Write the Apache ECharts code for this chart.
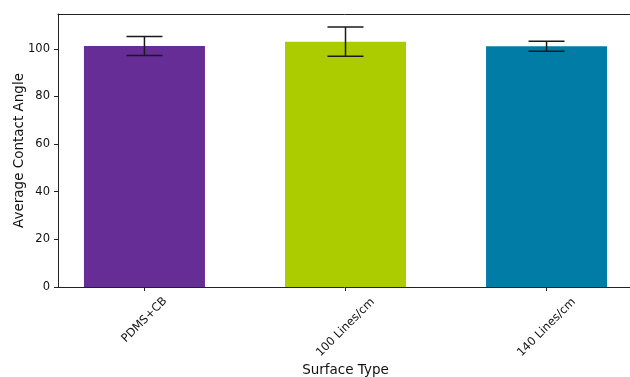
<!DOCTYPE html>
<html>
<head>
<meta charset="utf-8">
<script src="https://cdn.jsdelivr.net/npm/echarts@6/dist/echarts.min.js"></script>
<style>
  html, body { margin: 0; padding: 0; background: #fff; }
  #chart { width: 630px; height: 377px; }
</style>
</head>
<body>
<div id="chart"></div>
<script>
const categories = ['PDMS+CB', '100 Lines/cm', '140 Lines/cm'];
const meanAngles = [101.2, 103.0, 101.1];
const errors = [4.0, 6.1, 2.1];
const barColors = ['#652d95', '#adcc00', '#007ca7'];
const yTicks = [0, 20, 40, 60, 80, 100];

const positions = categories.map((c, i) => i);
const FONT = 'DejaVu Sans';
const TXT = '#111';

const chart = echarts.init(document.getElementById('chart'), null, { renderer: 'canvas' });

const option = {
  animation: false,
  backgroundColor: '#fff',
  grid: { left: 58, right: -3, top: 14, bottom: 90, containLabel: false, outerBoundsMode: 'none' },
  xAxis: [
    {
      type: 'value',
      min: -0.43,
      max: 2.43,
      position: 'bottom',
      name: 'Surface Type',
      nameLocation: 'middle',
      nameGap: 76,
      nameMoveOverlap: false,
      nameTextStyle: { fontFamily: FONT, fontSize: 13.5, color: TXT },
      splitLine: { show: false },
      axisLine: { show: true, onZero: false, lineStyle: { color: '#222', width: 1 } },
      axisTick: { show: true, length: 4, customValues: positions, lineStyle: { color: '#222', width: 1 } },
      axisLabel: {
        customValues: positions,
        rotate: 45,
        align: 'center',
        verticalAlign: 'middle',
        margin: 33,
        fontFamily: FONT,
        fontSize: 11.5,
        color: TXT,
        formatter: function (v) {
          const i = Math.round(v);
          const name = categories[i];
          return name.length > 8 ? '{b|' + name + '}' : '{a|' + name + '}';
        },
        rich: {
          a: { fontFamily: FONT, fontSize: 11.5, color: TXT },
          b: { fontFamily: FONT, fontSize: 11.5, color: TXT, padding: [10.6, 10.6, 0, 0] }
        }
      }
    },
    {
      type: 'value',
      min: -0.43,
      max: 2.43,
      position: 'top',
      axisLine: { show: true, onZero: false, lineStyle: { color: '#222', width: 1 } },
      axisTick: { show: false },
      axisLabel: { show: false },
      splitLine: { show: false }
    }
  ],
  yAxis: {
    type: 'value',
    min: 0,
    max: 114.6,
    name: 'Average Contact Angle',
    nameLocation: 'middle',
    nameGap: 32,
    nameMoveOverlap: false,
    nameTextStyle: { fontFamily: FONT, fontSize: 13.5, color: TXT },
    splitLine: { show: false },
    axisLine: { show: true, onZero: false, lineStyle: { color: '#222', width: 1 } },
    axisTick: { show: true, length: 4, customValues: yTicks, lineStyle: { color: '#222', width: 1 } },
    axisLabel: { customValues: yTicks, margin: 8, fontFamily: FONT, fontSize: 11.5, color: TXT }
  },
  series: [
    {
      type: 'bar',
      xAxisIndex: 0,
      barWidth: 121,
      data: meanAngles.map((v, i) => ({ value: [positions[i], v], itemStyle: { color: barColors[i] } })),
      z: 2
    },
    {
      type: 'custom',
      xAxisIndex: 0,
      z: 5,
      data: meanAngles.map((v, i) => [positions[i], v - errors[i], v + errors[i]]),
      renderItem: function (params, api) {
        const x = api.value(0);
        const lo = api.coord([x, api.value(1)]);
        const hi = api.coord([x, api.value(2)]);
        const hw = 18;
        const style = { stroke: '#1a1a1a', lineWidth: 1.5 };
        return {
          type: 'group',
          children: [
            { type: 'line', shape: { x1: hi[0], y1: hi[1], x2: lo[0], y2: lo[1] }, style: style },
            { type: 'line', shape: { x1: hi[0] - hw, y1: hi[1], x2: hi[0] + hw, y2: hi[1] }, style: style },
            { type: 'line', shape: { x1: lo[0] - hw, y1: lo[1], x2: lo[0] + hw, y2: lo[1] }, style: style }
          ]
        };
      }
    }
  ]
};

chart.setOption(option);
</script>
</body>
</html>
